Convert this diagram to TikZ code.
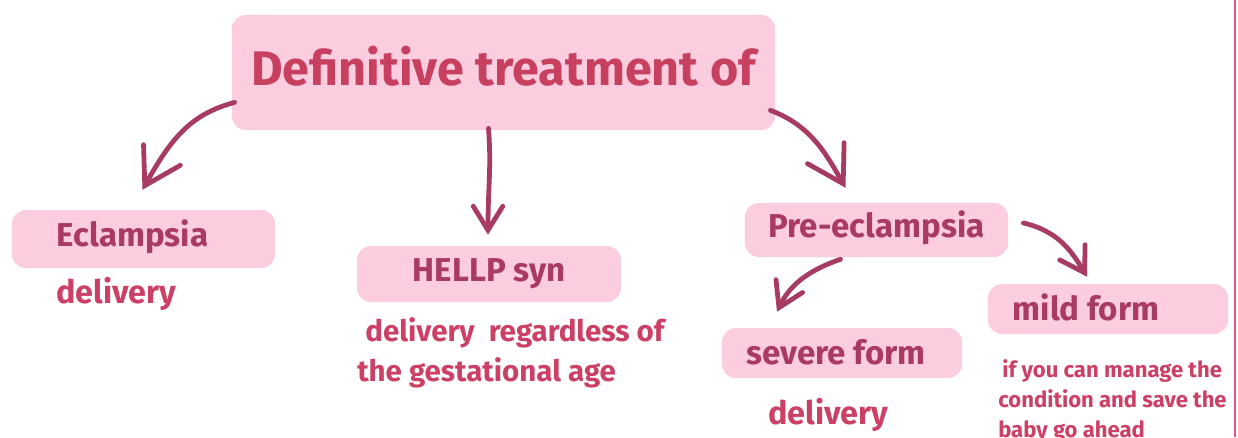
\documentclass[tikz,border=0pt]{standalone}
\usepackage{fontspec}
\setmainfont{Fira Sans}
\usepackage{xcolor}
\usetikzlibrary{arrows.meta,positioning}

\definecolor{boxpink}{HTML}{FCCDDF}
\definecolor{titlered}{HTML}{C8405F}
\definecolor{labelred}{HTML}{A93B62}
\definecolor{textred}{HTML}{CC4066}
\definecolor{arrowred}{HTML}{A83B62}
\definecolor{edgepink}{HTML}{E0587F}

\tikzset{
  pinkbox/.style={fill=boxpink, rounded corners=10pt, inner sep=0pt, text=labelred,
    text height=14pt, text depth=3pt, font=\bfseries\fontsize{23.5}{28}\selectfont},
  lowtext/.style={text height=18pt, text depth=2pt},
  note/.style={text=textred, inner sep=0pt, align=left,
    font=\bfseries\fontsize{23}{28}\selectfont},
  smallnote/.style={note, font=\bfseries\fontsize{15.7}{21.3}\selectfont},
  arr/.style={draw=arrowred, line width=3.4pt, line cap=round,
    -{Straight Barb[length=17pt,width=21pt,line cap=round]}},
  bigtip/.style={-{Straight Barb[length=25pt,width=30pt,line cap=round]}}
}

\begin{document}
\begin{tikzpicture}[x=0.025cm, y=-0.025cm]
  \useasboundingbox (0,0) rectangle (1238,437);
  \clip (0,0) rectangle (1238,437);
  % boxes
  \node[pinkbox, minimum width=13.58cm, minimum height=2.88cm, text=titlered,
    text height=22pt, text depth=4pt, font=\bfseries\fontsize{34.5}{40}\selectfont] (title) at (503.5,72.5) {Definitive treatment of};
  \node[pinkbox, minimum width=6.58cm, minimum height=1.45cm] (ecl) at (143.5,239) {Eclampsia\hspace*{0.55cm}};
  \node[pinkbox, minimum width=6.6cm, minimum height=1.4cm] (hellp) at (489,274) {HELLP syn};
  \node[pinkbox, minimum width=6.58cm, minimum height=1.35cm] (pre) at (876.5,230) {Pre-eclampsia};
  \node[pinkbox, lowtext, minimum width=6cm, minimum height=1.25cm] (severe) at (842,353) {severe form\hspace*{0.3cm}};
  \node[pinkbox, lowtext, minimum width=6cm, minimum height=1.25cm] (mild) at (1108,309) {mild form\hspace*{1.1cm}};
  % notes
  \node[note, anchor=base west] (eclnote) at (56,303) {delivery};
  \node[note, anchor=north west, font=\bfseries\fontsize{21}{28.5}\selectfont] (hellpnote) at (357,317) {\hspace*{0.2cm}delivery\ \ regardless of\\the gestational age};
  \node[note, anchor=base west] (severenote) at (768,424) {delivery};
  \node[smallnote, anchor=north west] (mildnote) at (998,359) {\hspace*{0.1cm}if you can manage the\\condition and save the\\baby go ahead};
  % arrows
  \draw[arr, bigtip] ([shift={(3,-28)}]title.south west) .. controls +(-45,12) and +(28,-50) .. ([shift={(-1,-20)}]ecl.north);
  \draw[arr] ([shift={(-15,-2)}]title.south) .. controls +(3,40) and +(0,-50) .. ([shift={(-1,-11)}]hellp.north);
  \draw[arr, bigtip] ([shift={(-5,-20)}]title.south east) .. controls +(40,15) and +(-20,-35) .. ([shift={(-31,-15)}]pre.north);
  \draw[arr] ([shift={(15,-7)}]pre.east) .. controls +(35,8) and +(-15,-25) .. ([shift={(-21,-7)}]mild.north);
  \draw[arr] ([shift={(-36,2)}]pre.south) .. controls +(-35,12) and +(12,-25) .. ([shift={(-65,-16)}]severe.north);
  % right edge
  \draw[edgepink, line width=1.4pt] (1235,0) -- (1235,437);
\end{tikzpicture}
\end{document}
